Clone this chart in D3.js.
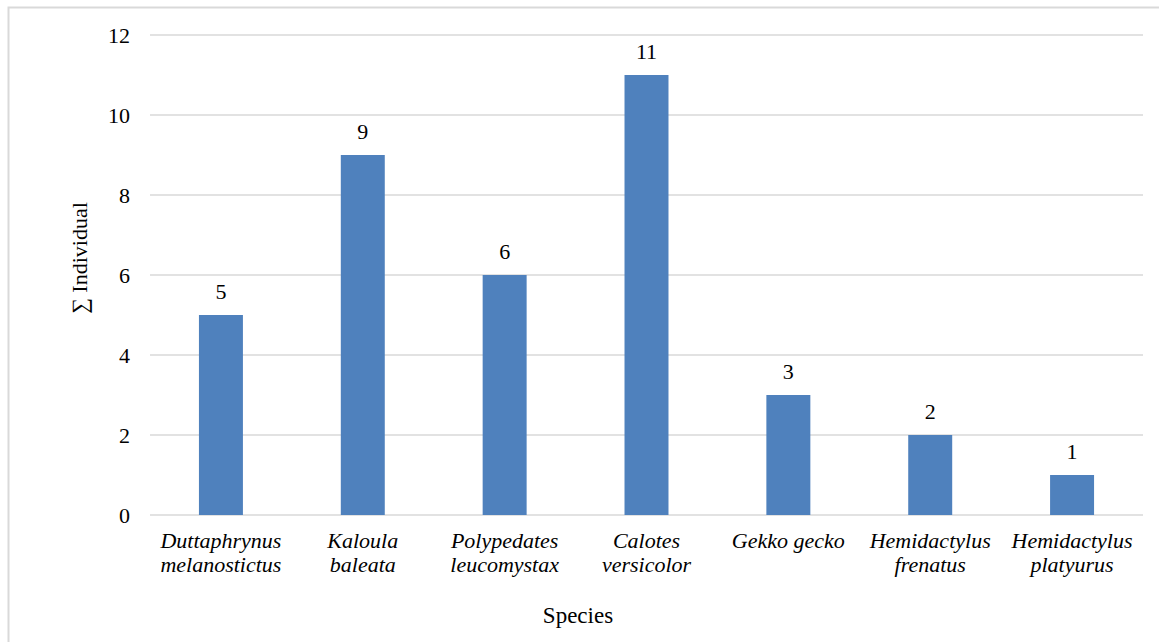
<!DOCTYPE html>
<html><head><meta charset="utf-8">
<script src="https://cdn.jsdelivr.net/npm/d3@7"></script>
</head><body style="margin:0">
<script>
const categories = [["Duttaphrynus","melanostictus"],["Kaloula","baleata"],["Polypedates","leucomystax"],["Calotes","versicolor"],["Gekko gecko"],["Hemidactylus","frenatus"],["Hemidactylus","platyurus"]];
const values = [5, 9, 6, 11, 3, 2, 1];
const yTicks = [0, 2, 4, 6, 8, 10, 12];

const W = 1159, H = 642;
const FF = '"Liberation Serif", "Times New Roman", serif';
const svg = d3.select("body").append("svg").attr("width", W).attr("height", H)
  .attr("font-family", FF).style("font-family", FF);

// outer border (top and left visible)
svg.append("path").attr("d", "M8.5,642 L8.5,7.5 L1159,7.5").attr("fill","none").attr("stroke","#d9d9d9").attr("stroke-width",2);

const x = d3.scaleBand().domain(d3.range(categories.length)).range([150, 1143]).paddingInner(0.69).paddingOuter(0.345);
const y = d3.scaleLinear().domain([0, 12]).range([515, 35]);

const g = svg.append("g");
g.selectAll("line.grid").data(yTicks).enter().append("line")
  .attr("x1",150).attr("x2",1143).attr("y1",d=>y(d)).attr("y2",d=>y(d))
  .attr("stroke","#d9d9d9").attr("stroke-width",1.3);

const ya = svg.append("g").attr("transform","translate(150,0)")
  .call(d3.axisLeft(y).tickValues(yTicks).tickSize(0).tickPadding(20));
ya.attr("font-family", FF).style("font-family", FF);
ya.select(".domain").remove();
ya.selectAll("text").attr("font-family", FF).style("font-family", FF).attr("font-size",22).attr("fill","#000");

g.selectAll("rect").data(values).enter().append("rect")
  .attr("x",(d,i)=>x(i)).attr("width",x.bandwidth())
  .attr("y",d=>y(d)).attr("height",d=>y(0)-y(d)).attr("fill","#4f81bd");

g.selectAll("text.val").data(values).enter().append("text")
  .attr("x",(d,i)=>x(i)+x.bandwidth()/2).attr("y",d=>y(d)-16)
  .attr("text-anchor","middle").attr("font-family", FF).style("font-family",FF).attr("font-size",22).text(d=>d);

const cl = g.selectAll("text.cat").data(categories).enter().append("text")
  .attr("text-anchor","middle").attr("font-family", FF).style("font-family",FF).attr("font-size",22).style("font-style","italic");
cl.each(function(d,i){
  const t = d3.select(this);
  d.forEach((line,j)=>{
    t.append("tspan").attr("x",x(i)+x.bandwidth()/2).attr("y",548+j*24).text(line);
  });
});

svg.append("text").attr("x",578).attr("y",623).attr("text-anchor","middle")
  .attr("font-family", FF).style("font-family",FF).attr("font-size",23).text("Species");
svg.append("text").attr("transform","translate(87,258) rotate(-90)").attr("text-anchor","middle")
  .attr("font-family", FF).style("font-family",FF).attr("font-size",22).text("∑ Individual");
</script>
</body></html>
